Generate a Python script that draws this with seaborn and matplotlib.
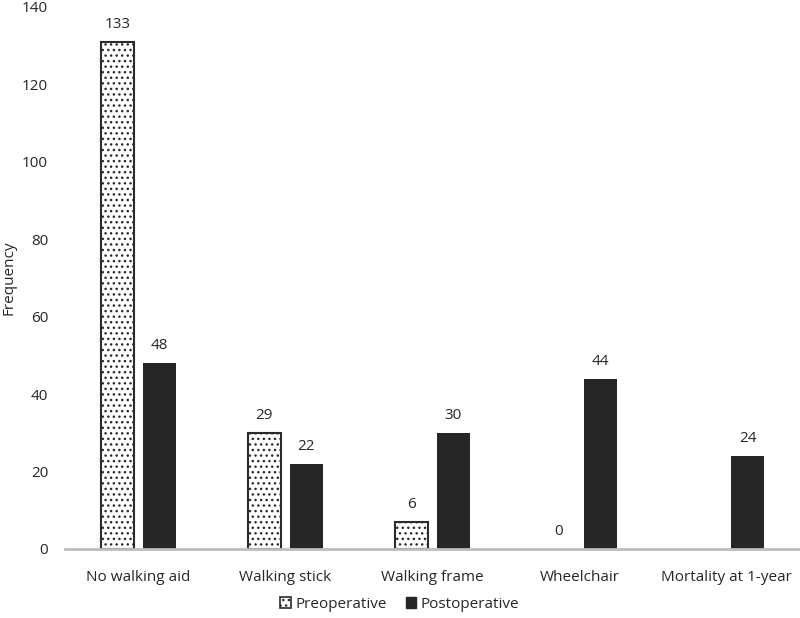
import numpy as np
import pandas as pd
import matplotlib.pyplot as plt
import seaborn as sns
from matplotlib.patches import Patch

sns.set_theme(style="white")
plt.rcParams["font.family"] = ["Open Sans", "DejaVu Sans"]
plt.rcParams["hatch.linewidth"] = 1.0

# ----------------------------------------------------------------------
# Data
# ----------------------------------------------------------------------
categories = ["No walking aid", "Walking stick", "Walking frame", "Wheelchair", "Mortality at 1-year"]
series = ["Preoperative", "Postoperative"]
pre_heights = [131, 30, 7, 0, 0]
post_heights = [48, 22, 30, 44, 24]
pre_labels = ["133", "29", "6", "0", ""]
post_labels = ["48", "22", "30", "44", "24"]
yticks = [0, 20, 40, 60, 80, 100, 120, 140]

df = pd.DataFrame({
    "category": categories * 2,
    "group": [series[0]] * len(categories) + [series[1]] * len(categories),
    "value": pre_heights + post_heights,
})

TEXT = "#262626"
fig = plt.figure(figsize=(8, 6.18), dpi=100)
ax = fig.add_axes([0.081, 0.1117, 0.919, 0.877])

sns.barplot(
    data=df, x="category", y="value", hue="group",
    order=categories, hue_order=series,
    palette={series[0]: "white", series[1]: "#262626"},
    width=0.572, gap=0.217, ax=ax, legend=False,
)

pre_cont, post_cont = ax.containers[0], ax.containers[1]
for bar, h in zip(pre_cont, pre_heights):
    bar.set_hatch("...")
    bar.set_edgecolor("#2b2b2b")
    bar.set_linewidth(1.5 if h > 0 else 0)
for bar in post_cont:
    bar.set_edgecolor("#262626")
    bar.set_linewidth(0)

ax.bar_label(pre_cont, labels=pre_labels, padding=7, fontsize=11, color=TEXT)
ax.bar_label(post_cont, labels=post_labels, padding=7, fontsize=11, color=TEXT)

ax.set_ylim(0, 140)
ax.set_xlim(-0.5, len(categories) - 0.5)
ax.set_yticks(yticks)
ax.set_yticklabels([str(t) for t in yticks])
ax.tick_params(axis="both", length=0, labelsize=11, colors=TEXT)
ax.tick_params(axis="x", pad=15)
ax.tick_params(axis="y", pad=12)
ax.set_xlabel("")
ax.set_ylabel("Frequency", fontsize=11, color=TEXT)
ax.yaxis.set_label_coords(-0.066, 0.5)

for s in ["top", "right", "left"]:
    ax.spines[s].set_visible(False)
ax.spines["bottom"].set_color("#bdbdbd")
ax.spines["bottom"].set_linewidth(2)

handles = [
    Patch(facecolor="white", edgecolor="#2b2b2b", hatch="...", linewidth=1.2, label=series[0]),
    Patch(facecolor="#262626", edgecolor="#262626", label=series[1]),
]
fig.legend(handles=handles, loc="lower center", bbox_to_anchor=(0.5, -0.012), ncol=2,
           frameon=False, fontsize=11, handlelength=0.7, handleheight=0.7,
           handletextpad=0.3, columnspacing=1.2, labelcolor=TEXT)

fig.savefig("out.png", dpi=100)
